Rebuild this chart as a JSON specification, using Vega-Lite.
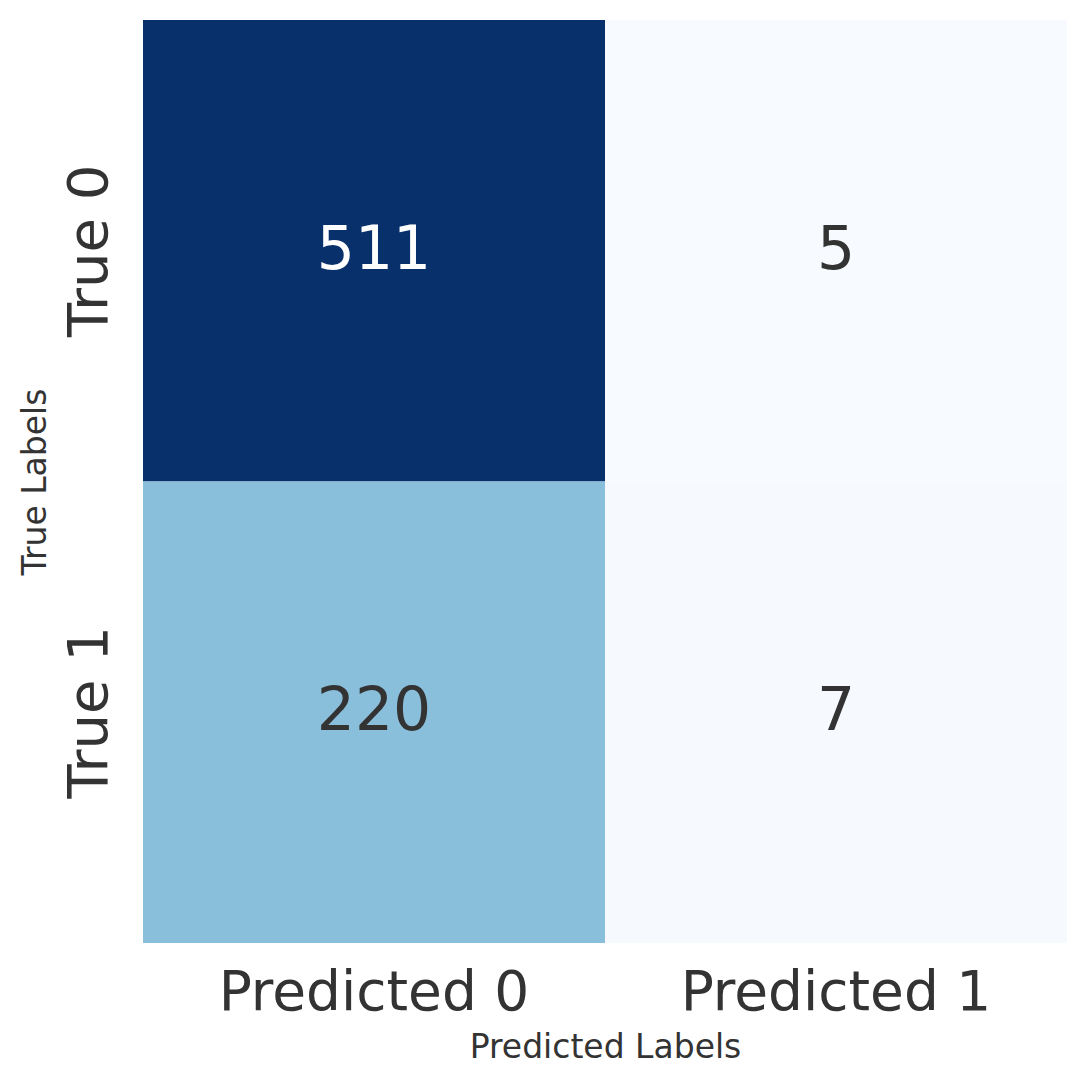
{
  "$schema": "https://vega.github.io/schema/vega-lite/v6.json",
  "width": 924,
  "height": 923,
  "autosize": {"type": "none"},
  "padding": {"left": 143, "top": 20, "right": 21, "bottom": 145},
  "background": "white",
  "config": {"view": {"stroke": null}, "font": "DejaVu Sans"},
  "data": {
    "values": [
      {"pred": "Predicted 0", "true": "True 0", "count": 511},
      {"pred": "Predicted 1", "true": "True 0", "count": 5},
      {"pred": "Predicted 0", "true": "True 1", "count": 220},
      {"pred": "Predicted 1", "true": "True 1", "count": 7}
    ]
  },
  "encoding": {
    "x": {
      "field": "pred", "type": "nominal", "sort": ["Predicted 0", "Predicted 1"],
      "scale": {"paddingInner": 0, "paddingOuter": 0},
      "axis": {
        "title": "Predicted Labels", "titleFontSize": 33, "titleFontWeight": "normal", "titleColor": "#333333",
        "titlePadding": 11,
        "labelFontSize": 55, "labelColor": "#333333", "labelAngle": 0, "labelPadding": 23, "labelLimit": 0,
        "ticks": false, "domain": false
      }
    },
    "y": {
      "field": "true", "type": "nominal", "sort": ["True 0", "True 1"],
      "scale": {"paddingInner": 0, "paddingOuter": 0},
      "axis": {
        "title": "True Labels", "titleFontSize": 33, "titleFontWeight": "normal", "titleColor": "#333333",
        "titlePadding": 9,
        "labelFontSize": 56, "labelColor": "#333333", "labelAngle": -90, "labelAlign": "center", "labelBaseline": "bottom", "labelPadding": 25, "labelLimit": 0,
        "ticks": false, "domain": false
      }
    }
  },
  "layer": [
    {
      "mark": {"type": "rect"},
      "encoding": {
        "color": {
          "field": "count", "type": "quantitative", "legend": null,
          "scale": {
            "domain": [5, 68.25, 131.5, 194.75, 258, 321.25, 384.5, 447.75, 511],
            "range": ["#f7fbff", "#deebf7", "#c6dbef", "#9ecae1", "#6baed6", "#4292c6", "#2171b5", "#08519c", "#08306b"]
          }
        }
      }
    },
    {
      "mark": {"type": "text", "fontSize": 60, "baseline": "middle", "align": "center"},
      "encoding": {
        "text": {"field": "count", "type": "quantitative"},
        "color": {
          "condition": {"test": "datum.count > 300", "value": "white"},
          "value": "#333333"
        }
      }
    }
  ]
}
